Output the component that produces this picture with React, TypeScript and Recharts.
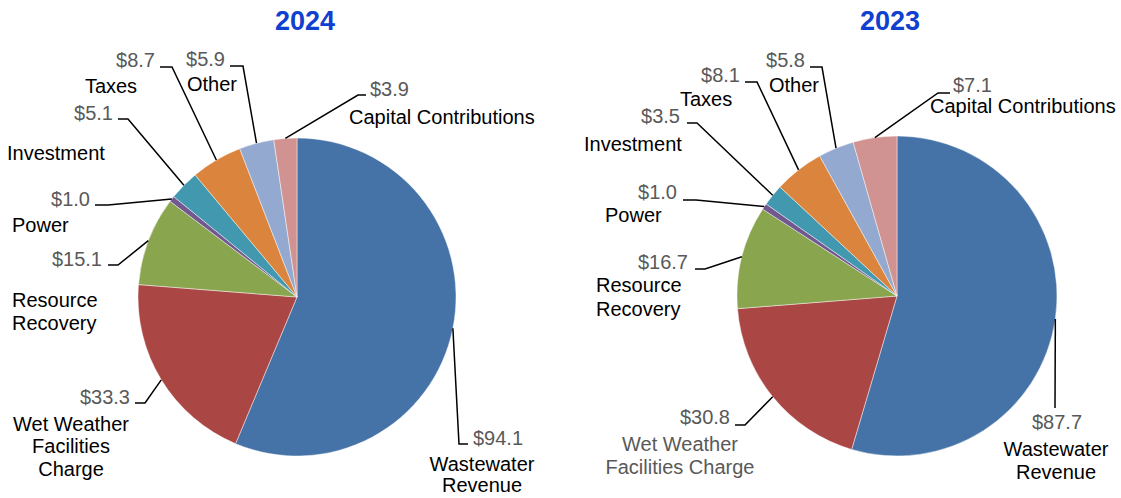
import React from "react";
import { PieChart, Pie, Cell } from "recharts";

// ---------- data ----------
const categories = [
  "Wastewater Revenue",
  "Wet Weather Facilities Charge",
  "Resource Recovery",
  "Power",
  "Investment",
  "Taxes",
  "Other",
  "Capital Contributions",
];
const values2024 = [94.1, 33.3, 15.1, 1.0, 5.1, 8.7, 5.9, 3.9];
const values2023 = [87.7, 30.8, 16.7, 1.0, 3.5, 8.1, 5.8, 7.1];
const years = ["2024", "2023"];

// ---------- styles ----------
const colors = ["#4572A7", "#AA4643", "#89A54E", "#71588F", "#4198AF", "#DB843D", "#93A9CF", "#D19392"];
const FONT = "'Liberation Sans', Arial, Helvetica, sans-serif";
const VALUE_COLOR = "#595959";
const NAME_COLOR = "#000000";

type Anchor = "start" | "middle" | "end";
type LabelLayout = {
  value: [number, number];
  valueAnchor: Anchor;
  elbow: [number, number];
  end: [number, number];
  nameX: number;
  nameY: number[];
  nameLines: string[];
  nameAnchor: Anchor;
  nameColor?: string;
};

// label layouts, offsets relative to pie centre
const layout2024: LabelLayout[] = [
  { value: [176, 148], valueAnchor: "start", elbow: [162, 147], end: [171, 147], nameX: 185, nameY: [174, 195], nameLines: ["Wastewater", "Revenue"], nameAnchor: "middle" },
  { value: [-167, 107], valueAnchor: "end", elbow: [-152, 106], end: [-162, 106], nameX: -226, nameY: [134, 156, 179], nameLines: ["Wet Weather", "Facilities", "Charge"], nameAnchor: "middle" },
  { value: [-195, -31], valueAnchor: "end", elbow: [-179, -32], end: [-189, -32], nameX: -285, nameY: [10, 33], nameLines: ["Resource", "Recovery"], nameAnchor: "start" },
  { value: [-207, -91], valueAnchor: "end", elbow: [-189, -92], end: [-202, -92], nameX: -285, nameY: [-65], nameLines: ["Power"], nameAnchor: "start" },
  { value: [-184, -177], valueAnchor: "end", elbow: [-169, -178], end: [-179, -178], nameX: -290, nameY: [-137], nameLines: ["Investment"], nameAnchor: "start" },
  { value: [-142, -230], valueAnchor: "end", elbow: [-125, -230], end: [-137, -230], nameX: -186, nameY: [-204], nameLines: ["Taxes"], nameAnchor: "middle" },
  { value: [-72, -231], valueAnchor: "end", elbow: [-54, -231], end: [-67, -231], nameX: -110, nameY: [-206], nameLines: ["Other"], nameAnchor: "start" },
  { value: [73, -201], valueAnchor: "start", elbow: [61, -202], end: [69, -202], nameX: 52, nameY: [-173], nameLines: ["Capital Contributions"], nameAnchor: "start" },
];

const layout2023: LabelLayout[] = [
  { value: [160, 133], valueAnchor: "middle", elbow: [158, 112], end: [158, 112], nameX: 159, nameY: [160, 183], nameLines: ["Wastewater", "Revenue"], nameAnchor: "middle" },
  { value: [-167, 128], valueAnchor: "end", elbow: [-152, 129], end: [-162, 129], nameX: -217, nameY: [155, 178], nameLines: ["Wet Weather", "Facilities Charge"], nameAnchor: "middle", nameColor: VALUE_COLOR },
  { value: [-209, -27], valueAnchor: "end", elbow: [-192, -27], end: [-202, -27], nameX: -301, nameY: [-4, 20], nameLines: ["Resource", "Recovery"], nameAnchor: "start" },
  { value: [-220, -97], valueAnchor: "end", elbow: [-201, -96], end: [-214, -96], nameX: -292, nameY: [-74], nameLines: ["Power"], nameAnchor: "start" },
  { value: [-217, -173], valueAnchor: "end", elbow: [-200, -173], end: [-210, -173], nameX: -313, nameY: [-145], nameLines: ["Investment"], nameAnchor: "start" },
  { value: [-157, -214], valueAnchor: "end", elbow: [-140, -214], end: [-152, -214], nameX: -217, nameY: [-190], nameLines: ["Taxes"], nameAnchor: "start" },
  { value: [-92, -229], valueAnchor: "end", elbow: [-75, -229], end: [-87, -229], nameX: -128, nameY: [-204], nameLines: ["Other"], nameAnchor: "start" },
  { value: [56, -204], valueAnchor: "start", elbow: [41, -203], end: [53, -203], nameX: 33, nameY: [-183], nameLines: ["Capital Contributions"], nameAnchor: "start" },
];

const pies = [
  { year: years[0], values: values2024, cx: 297, cy: 297, r: 159, layout: layout2024, titleX: 305 },
  { year: years[1], values: values2023, cx: 897, cy: 296, r: 160, layout: layout2023, titleX: 890 },
];

const RADIAN = Math.PI / 180;

function makeLabel(layout: LabelLayout[], pcx: number, pcy: number) {
  return (props: any) => {
    const idx: number = props.index;
    const L = layout[idx];
    if (!L) return null;
    const cx = typeof props.cx === "number" ? props.cx : pcx;
    const cy = typeof props.cy === "number" ? props.cy : pcy;
    const r = props.outerRadius;
    const mid = props.midAngle;
    const ex = cx + r * Math.cos(-mid * RADIAN);
    const ey = cy + r * Math.sin(-mid * RADIAN);
    const pts = `${ex},${ey} ${cx + L.elbow[0]},${cy + L.elbow[1]} ${cx + L.end[0]},${cy + L.end[1]}`;
    return (
      <g key={`lbl-${idx}`}>
        <polyline points={pts} fill="none" stroke="#000" strokeWidth={1.5} />
        <text
          x={cx + L.value[0]}
          y={cy + L.value[1]}
          textAnchor={L.valueAnchor}
          fill={VALUE_COLOR}
          fontFamily={FONT}
          fontSize={20}
        >
          {`$${Number(props.value).toFixed(1)}`}
        </text>
        {L.nameLines.map((line, i) => (
          <text
            key={i}
            x={cx + L.nameX}
            y={cy + L.nameY[i]}
            textAnchor={L.nameAnchor}
            fill={L.nameColor || NAME_COLOR}
            fontFamily={FONT}
            fontSize={20}
          >
            {line}
          </text>
        ))}
      </g>
    );
  };
}

export default function App() {
  return (
    <div style={{ position: "absolute", left: 0, top: 0, width: 1121, height: 498, background: "#fff" }}>
      <PieChart width={1121} height={498} margin={{ top: 0, right: 0, bottom: 0, left: 0 }}>
        {pies.map((p) => (
          <Pie
            key={p.year}
            data={categories.map((c, i) => ({ name: c, value: p.values[i] }))}
            dataKey="value"
            nameKey="name"
            cx={p.cx}
            cy={p.cy}
            outerRadius={p.r}
            innerRadius={0}
            startAngle={90}
            endAngle={-270}
            stroke="rgba(255,255,255,0.45)"
            strokeWidth={1}
            isAnimationActive={false}
            labelLine={false}
            label={makeLabel(p.layout, p.cx, p.cy)}
          >
            {categories.map((c, i) => (
              <Cell key={c} fill={colors[i]} />
            ))}
          </Pie>
        ))}
      </PieChart>
      <svg width={1121} height={498} style={{ position: "absolute", left: 0, top: 0, pointerEvents: "none" }}>
        {pies.map((p) => (
          <text
            key={p.year}
            x={p.titleX}
            y={30}
            textAnchor="middle"
            fill="#1040D0"
            fontFamily={FONT}
            fontWeight="bold"
            fontSize={27}
          >
            {p.year}
          </text>
        ))}
      </svg>
    </div>
  );
}
